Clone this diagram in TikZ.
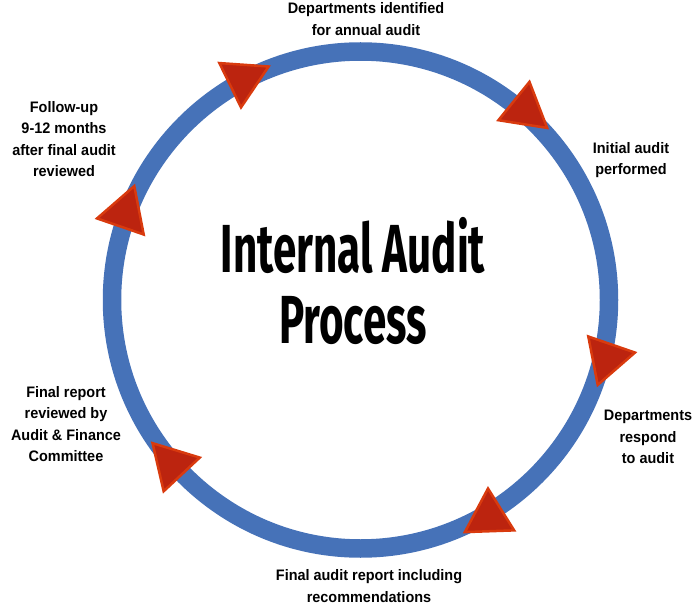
\documentclass[tikz,border=0pt]{standalone}
\usepackage{fontspec}
\setmainfont{Liberation Sans}
\newfontfamily\labelfont[FakeStretch=0.95]{Liberation Sans}
\newfontfamily\titlefont[FakeStretch=0.62]{Fira Sans}
\usetikzlibrary{shapes.geometric}
\definecolor{ringblue}{HTML}{4672B8}
\definecolor{arrowred}{HTML}{BC240F}
\definecolor{arrowedge}{HTML}{D93A0E}

\begin{document}
\begin{tikzpicture}[x=1pt,y=-1pt,
  ring/.style={draw=ringblue,line width=18.5pt},
  tip/.style={regular polygon,regular polygon sides=3,inner sep=0pt,minimum size=57pt,
    fill=arrowred,draw=arrowedge,line width=2.5pt,line join=miter},
  lbl/.style={align=center,font=\labelfont\bfseries\fontsize{15.2}{21.5}\selectfont}]
\useasboundingbox (0,0) rectangle (697,607);

\coordinate (c) at (360.5,300);
\draw[ring] (c) circle[radius=248.5pt];

\node[tip,rotate=176] (t1) at (243,79) {};
\node[tip,rotate=-9] (t2) at (525,110) {};
\node[tip,rotate=-79] (t3) at (607,358) {};
\node[tip,rotate=2] (t4) at (489,517) {};
\node[tip,rotate=-77] (t5) at (172,464) {};
\node[tip,rotate=-19] (t6) at (125,213) {};

\node[align=center,font=\titlefont\bfseries\fontsize{68}{71}\selectfont] (title) at (353,281) {Internal Audit\\Process};

\node[lbl] (dept) at (366,19) {Departments identified\\for annual audit};
\node[lbl] (init) at (631,160) {Initial audit\\performed};
\node[lbl] (resp) at (648,437) {Departments\\respond\\to audit};
\node[lbl] (rep) at (369,586) {Final audit report including\\recommendations};
\node[lbl] (comm) at (66,424) {Final report\\reviewed by\\Audit \& Finance\\Committee};
\node[lbl] (follow) at (64,139) {Follow-up\\9-12 months\\after final audit\\reviewed};
\end{tikzpicture}
\end{document}
